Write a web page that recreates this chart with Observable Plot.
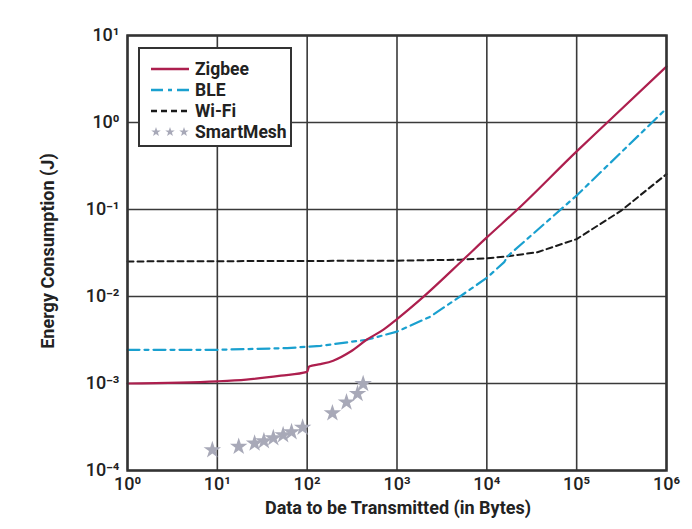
<!DOCTYPE html>
<html>
<head>
<meta charset="utf-8">
<script src="https://cdn.jsdelivr.net/npm/d3@7"></script>
<script src="https://cdn.jsdelivr.net/npm/@observablehq/plot@0.6"></script>
<style>
  html, body { margin: 0; padding: 0; background: #fff; }
  #wrap { position: relative; width: 692px; height: 529px; font-family: Roboto, "Noto Sans", sans-serif; }
  #legend { position: absolute; left: 138px; top: 47px; width: 154px; height: 100px; border: 2px solid #333; background: #fff; box-sizing: border-box; padding: 9px 0 0 10px; }
  .row { display: flex; align-items: center; height: 21px; font-weight: 700; font-size: 17.5px; color: #222; }
  .row svg { margin-right: 5px; }
</style>
</head>
<body>
<div id="wrap"></div>
<script>
// ---- data ----
const zigbeeX = [1, 10, 21, 51, 100, 105, 141, 195, 305, 459, 700, 1000, 1964, 5487, 10000, 21900, 100000, 219000, 1000000];
const zigbeeY = [1.0e-3, 1.06e-3, 1.11e-3, 1.23e-3, 1.36e-3, 1.57e-3, 1.67e-3, 1.83e-3, 2.33e-3, 3.18e-3, 4.13e-3, 5.5e-3, 9.9e-3, 0.0266, 0.0478, 0.1, 0.466, 1.0, 4.4];

const bleX = [1, 10, 60, 141, 459, 1000, 2340, 4650, 10000, 15600, 17000, 100000, 690000, 1000000];
const bleY = [2.44e-3, 2.44e-3, 2.55e-3, 2.71e-3, 3.18e-3, 3.95e-3, 5.85e-3, 9.46e-3, 0.0164, 0.0248, 0.029, 0.145, 1.0, 1.45];

const wifiX = [1, 1000, 5000, 10000, 17000, 36600, 100000, 310000, 1000000];
const wifiY = [0.0253, 0.0258, 0.0265, 0.0275, 0.029, 0.0323, 0.0457, 0.0964, 0.255];

const meshX = [8.8, 17.3, 26, 33, 42, 54, 67, 89, 191, 274, 364, 420];
const meshY = [1.72e-4, 1.88e-4, 2.05e-4, 2.18e-4, 2.36e-4, 2.56e-4, 2.77e-4, 3.12e-4, 4.56e-4, 6.09e-4, 7.63e-4, 9.9e-4];

const xTicks = [1, 10, 100, 1000, 10000, 100000, 1000000];
const xTickLabels = ["10⁰", "10¹", "10²", "10³", "10⁴", "10⁵", "10⁶"];
const yTicks = [1e-4, 1e-3, 1e-2, 1e-1, 1, 10];
const yTickLabels = ["10⁻⁴", "10⁻³", "10⁻²", "10⁻¹", "10⁰", "10¹"];

const seriesNames = ["Zigbee", "BLE", "Wi-Fi", "SmartMesh"];
const seriesColors = ["#ad1f4e", "#1aa0cf", "#1a1a1a", "#a8a9b8"];

const toRows = (xs, ys) => xs.map((x, i) => ({x, y: ys[i]}));
const zig = toRows(zigbeeX, zigbeeY);
const ble = toRows(bleX, bleY);
const wifi = toRows(wifiX, wifiY);
const mesh = toRows(meshX, meshY);

const xFmt = d => xTickLabels[xTicks.findIndex(t => Math.abs(Math.log10(t) - Math.log10(d)) < 1e-6)];
const yFmt = d => yTickLabels[yTicks.findIndex(t => Math.abs(Math.log10(t) - Math.log10(d)) < 1e-6)];

const plot = Plot.plot({
  width: 692,
  height: 529,
  marginLeft: 127,
  marginRight: 26,
  marginTop: 35,
  marginBottom: 59,
  style: { fontFamily: "Roboto, 'Noto Sans', sans-serif", background: "#fff" },
  x: { type: "log", domain: [1, 1e6], label: null },
  y: { type: "log", domain: [1e-4, 10], label: null },
  marks: [
    Plot.gridX(xTicks, { stroke: "#3a3a3a", strokeOpacity: 1, strokeWidth: 1.6 }),
    Plot.gridY(yTicks, { stroke: "#3a3a3a", strokeOpacity: 1, strokeWidth: 1.6 }),
    Plot.axisX(xTicks, { tickFormat: xFmt, tickSize: 0, tickPadding: 7, fontSize: 18, fontWeight: 500, fill: "#222", label: null }),
    Plot.axisY(yTicks, { tickFormat: yFmt, tickSize: 0, tickPadding: 8, fontSize: 18, fontWeight: 500, fill: "#222", label: null }),
    Plot.line(wifi, { x: "x", y: "y", stroke: seriesColors[2], strokeWidth: 2, strokeDasharray: "6,4" }),
    Plot.line(ble, { x: "x", y: "y", stroke: seriesColors[1], strokeWidth: 2.2, strokeDasharray: "12,5,4,5" }),
    Plot.line(zig, { x: "x", y: "y", stroke: seriesColors[0], strokeWidth: 2.2, curve: "monotone-x" }),
    Plot.dot(mesh, { x: "x", y: "y", symbol: "star", fill: seriesColors[3], stroke: "none", r: 5.5 }),
    Plot.frame({ stroke: "#333", strokeWidth: 2.5 })
  ]
});

// axis titles as text in svg
const svg = d3.select(plot);
svg.append("text").attr("x", 398).attr("y", 514).attr("text-anchor", "middle")
  .attr("font-size", 18).attr("font-weight", 700).attr("fill", "#222").text("Data to be Transmitted (in Bytes)");
svg.append("text").attr("transform", "translate(54,251) rotate(-90)").attr("text-anchor", "middle")
  .attr("font-size", 18).attr("font-weight", 700).attr("fill", "#222").text("Energy Consumption (J)");

const wrap = document.getElementById("wrap");
wrap.appendChild(plot);

// legend overlay
const legend = document.createElement("div");
legend.id = "legend";
const dashes = ["none", "12,5,4,5", "6,4", null];
seriesNames.forEach((name, i) => {
  const row = document.createElement("div");
  row.className = "row";
  let sample;
  if (dashes[i] === null) {
    sample = `<svg width="40" height="14">${[6, 20, 34].map(cx => `<polygon transform="translate(${cx},7)" fill="${seriesColors[i]}" points="${d3.range(10).map(k => { const r = k % 2 ? 2 : 5; const a = k * Math.PI / 5 - Math.PI / 2; return [r * Math.cos(a), r * Math.sin(a)].join(","); }).join(" ")}"/>`).join("")}</svg>`;
  } else {
    sample = `<svg width="40" height="14"><line x1="1" x2="39" y1="7" y2="7" stroke="${seriesColors[i]}" stroke-width="2.4" stroke-dasharray="${dashes[i]}"/></svg>`;
  }
  row.innerHTML = sample + `<span>${name}</span>`;
  legend.appendChild(row);
});
wrap.appendChild(legend);
</script>
</body>
</html>
